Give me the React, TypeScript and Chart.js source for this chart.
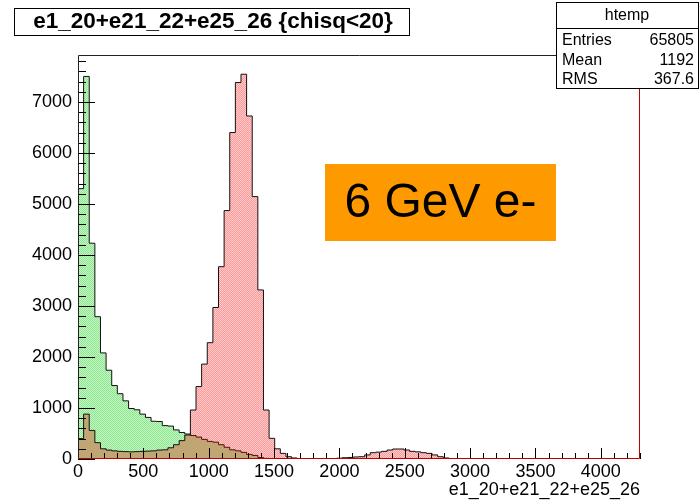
import { useEffect, useRef } from "react";
import { Chart, registerables } from "chart.js";

Chart.register(...registerables);

// Histogram binning (100 bins over 0..4300)
const BIN_WIDTH = 43;
const X_MAX = 4300;
const Y_MAX = 7920;

const xTickValues = [0, 500, 1000, 1500, 2000, 2500, 3000, 3500, 4000];
const yTickValues = [0, 1000, 2000, 3000, 4000, 5000, 6000, 7000];

// Counts per bin, starting at bin 0
const greenCounts = [
  5300, 7500, 4230, 2790, 2080, 1740, 1440, 1280, 1140, 990,
  965, 880, 815, 740, 735, 655, 645, 570, 520, 490,
  460, 430, 385, 345, 330, 280, 230, 180, 160, 130,
  90, 70, 30, 12, 5,
];

const redCounts = [
  400, 880, 560, 320, 200, 175, 160, 150, 145, 140,
  145, 150, 155, 160, 175, 180, 220, 280, 360, 470,
  960, 1420, 1860, 2280, 2970, 3770, 4870, 6400, 7380, 7543,
  6725, 5144, 3314, 960, 405, 200, 110, 45, 20, 10,
  5, 5, 5, 5, 10, 10, 15, 25, 30, 40,
  45, 80, 124, 135, 150, 176, 196, 196, 176, 150,
  140, 124, 110, 80, 45, 20, 5,
];

const titleText = "e1_20+e21_22+e25_26 {chisq<20}";
const xTitleText = "e1_20+e21_22+e25_26";
const statsName = "htemp";
const statsLabels = ["Entries", "Mean", "RMS"];
const statsValues = ["65805", "1192", "367.6"];
const beamLabel = "6 GeV e-";

const FONT = "'Liberation Sans', Arial, Helvetica, sans-serif";

// bin edges -> step outline closed on the baseline
function toSteps(counts: number[]) {
  const pts = [{ x: 0, y: 0 }];
  counts.forEach((v, i) => pts.push({ x: i * BIN_WIDTH, y: v }));
  pts.push({ x: counts.length * BIN_WIDTH, y: counts[counts.length - 1] });
  pts.push({ x: counts.length * BIN_WIDTH, y: 0 });
  return pts;
}

// dotted fill: checkerboard of a stronger and a fainter dot
function makeDots(rgb: string, strongAlpha: number, weakAlpha: number, strongOnEven: boolean) {
  const c = document.createElement("canvas");
  c.width = 2;
  c.height = 2;
  const g = c.getContext("2d")!;
  const strong = `rgba(${rgb},${strongAlpha})`;
  const weak = `rgba(${rgb},${weakAlpha})`;
  g.fillStyle = strongOnEven ? strong : weak;
  g.fillRect(0, 0, 1, 1);
  g.fillRect(1, 1, 1, 1);
  g.fillStyle = strongOnEven ? weak : strong;
  g.fillRect(1, 0, 1, 1);
  g.fillRect(0, 1, 1, 1);
  return g.createPattern(c, "repeat")!;
}

const frameAndBoxes = {
  id: "frameAndBoxes",
  afterDatasetsDraw(chart: any) {
    const { ctx, chartArea, scales } = chart;
    const { left, right, top, bottom } = chartArea;
    const xs = scales.x;
    const ys = scales.y;
    ctx.save();
    ctx.lineWidth = 1;
    ctx.strokeStyle = "#000";
    ctx.beginPath();
    for (let v = 0; v <= X_MAX; v += 100) {
      const px = Math.round(xs.getPixelForValue(v)) + 0.5;
      const len = v % 500 === 0 ? 11 : 6;
      ctx.moveTo(px, bottom);
      ctx.lineTo(px, bottom - len);
    }
    for (let v = 0; v <= Y_MAX; v += 200) {
      const py = Math.round(ys.getPixelForValue(v)) + 0.5;
      const len = v % 1000 === 0 ? 17 : 8;
      ctx.moveTo(left, py);
      ctx.lineTo(left + len, py);
    }
    ctx.stroke();

    // frame
    ctx.strokeStyle = "#222";
    ctx.beginPath();
    ctx.moveTo(left + 0.5, bottom);
    ctx.lineTo(left + 0.5, top + 0.5);
    ctx.lineTo(right, top + 0.5);
    ctx.stroke();
    ctx.strokeStyle = "#c00000";
    ctx.beginPath();
    ctx.moveTo(right - 0.5, top);
    ctx.lineTo(right - 0.5, bottom - 0.5);
    ctx.lineTo(left, bottom - 0.5);
    ctx.stroke();
    ctx.restore();
  },
  afterDraw(chart: any) {
    const { ctx } = chart;
    ctx.save();
    // title box
    ctx.fillStyle = "#fff";
    ctx.fillRect(14, 8, 395, 27);
    ctx.strokeStyle = "#000";
    ctx.lineWidth = 1;
    ctx.strokeRect(14.5, 8.5, 395, 27);
    ctx.fillStyle = "#000";
    ctx.font = `bold 22.5px ${FONT}`;
    ctx.textAlign = "center";
    ctx.textBaseline = "middle";
    ctx.fillText(titleText, 213, 22);

    // stats box
    ctx.fillStyle = "#fff";
    ctx.fillRect(556, 2, 142, 86);
    ctx.strokeRect(556.5, 2.5, 142, 86);
    ctx.beginPath();
    ctx.moveTo(556, 28.5);
    ctx.lineTo(698, 28.5);
    ctx.stroke();
    ctx.fillStyle = "#000";
    ctx.font = `16px ${FONT}`;
    ctx.textAlign = "center";
    ctx.fillText(statsName, 627, 16);
    const rowY = [41, 61, 80];
    statsLabels.forEach((lab, i) => {
      ctx.textAlign = "left";
      ctx.fillText(lab, 562, rowY[i]);
      ctx.textAlign = "right";
      ctx.fillText(statsValues[i], 694, rowY[i]);
    });

    // beam label
    ctx.fillStyle = "#ff9900";
    ctx.fillRect(325, 164, 231, 77);
    ctx.fillStyle = "#000";
    ctx.font = `48px ${FONT}`;
    ctx.textAlign = "center";
    ctx.fillText(beamLabel, 440.5, 204);
    ctx.restore();
  },
};

export default function App() {
  const canvasRef = useRef<HTMLCanvasElement | null>(null);

  useEffect(() => {
    const canvas = canvasRef.current;
    if (!canvas) return;
    const greenFill = makeDots("0,205,0", 0.45, 0.22, true);
    const redFill = makeDots("255,0,0", 0.4, 0.2, false);

    const chart = new Chart(canvas, {
      type: "line",
      data: {
        datasets: [
          {
            data: toSteps(greenCounts),
            stepped: "before",
            fill: "origin",
            backgroundColor: greenFill,
            borderColor: "#111",
            borderWidth: 1,
            pointRadius: 0,
            order: 2,
          },
          {
            data: toSteps(redCounts),
            stepped: "before",
            fill: "origin",
            backgroundColor: redFill,
            borderColor: "#111",
            borderWidth: 1,
            pointRadius: 0,
            order: 1,
          },
        ],
      },
      options: {
        animation: false,
        responsive: false,
        maintainAspectRatio: false,
        layout: { padding: { top: 55, right: 60, left: 0, bottom: 0 } },
        plugins: { legend: { display: false }, tooltip: { enabled: false } },
        scales: {
          x: {
            type: "linear",
            min: 0,
            max: X_MAX,
            grid: { display: false, drawTicks: false },
            border: { display: false },
            afterBuildTicks: (scale: any) => {
              scale.ticks = xTickValues.map((value) => ({ value }));
            },
            ticks: {
              autoSkip: false,
              maxRotation: 0,
              padding: 2,
              color: "#000",
              font: { family: FONT, size: 18 },
              callback: (v: any) => String(v),
            },
            title: {
              display: true,
              text: xTitleText,
              align: "end",
              color: "#000",
              font: { family: FONT, size: 18 },
              padding: { top: 0, bottom: 1 },
            },
            afterFit: (scale: any) => {
              scale.height = 43;
            },
          },
          y: {
            type: "linear",
            min: 0,
            max: Y_MAX,
            grid: { display: false, drawTicks: false },
            border: { display: false },
            afterBuildTicks: (scale: any) => {
              scale.ticks = yTickValues.map((value) => ({ value }));
            },
            ticks: {
              padding: 6,
              color: "#000",
              font: { family: FONT, size: 18 },
              callback: (v: any) => String(v),
            },
            afterFit: (scale: any) => {
              scale.width = 78;
            },
          },
        },
      },
      plugins: [frameAndBoxes],
    });
    return () => chart.destroy();
  }, []);

  return (
    <div style={{ position: "absolute", left: 0, top: 0, width: 700, height: 502, background: "#fff" }}>
      <canvas ref={canvasRef} width={700} height={502} />
    </div>
  );
}
